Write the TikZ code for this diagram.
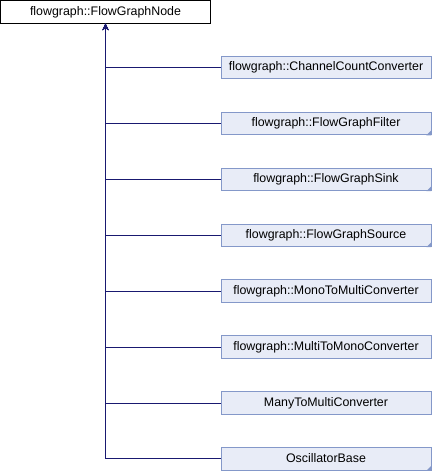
\documentclass[tikz,border=0pt]{standalone}
\usepackage{fontspec}
\setmainfont{Liberation Sans}
\usepackage{xcolor}
\definecolor{edgeblue}{RGB}{25,25,112}
\definecolor{bfill}{RGB}{232,236,247}
\definecolor{bdraw}{RGB}{132,152,201}
\usepackage{tikz}
\usetikzlibrary{arrows.meta,positioning}

\begin{document}
\begin{tikzpicture}[
  x=1pt,y=1pt,
  node distance=32.4pt,
  font=\fontsize{12.4}{14}\selectfont,
  rootbox/.style={rectangle,draw=black,fill=white,line width=0.9pt,minimum width=210pt,minimum height=22.6pt,inner sep=0pt,text height=9pt,text depth=2.5pt},
  cbox/.style={rectangle,draw=bdraw,fill=bfill,line width=0.9pt,minimum width=210pt,minimum height=22.6pt,inner sep=0pt,text height=9pt,text depth=2.5pt},
  edge/.style={-{Stealth[length=6.5pt,width=6pt]},line width=0.9pt,edgeblue},
  fold/.style={fill=bdraw}
]
  \useasboundingbox (0,0) rectangle (432,-472);

  % Base class
  \node[rootbox] (fgnode) at (105.5,-11.8) {flowgraph::FlowGraphNode};

  % Derived classes
  \node[cbox] (ccc) at (326,-67.6) {flowgraph::ChannelCountConverter};
  \node[cbox,below=of ccc] (filter) {flowgraph::FlowGraphFilter};
  \node[cbox,below=of filter] (sink) {flowgraph::FlowGraphSink};
  \node[cbox,below=of sink] (source) {flowgraph::FlowGraphSource};
  \node[cbox,below=of source] (m2m) {flowgraph::MonoToMultiConverter};
  \node[cbox,below=of m2m] (mu2mo) {flowgraph::MultiToMonoConverter};
  \node[cbox,below=of mu2mo] (many) {ManyToMultiConverter};
  \node[cbox,below=of many] (osc) {OscillatorBase};

  % Folded corners
  \fill[fold] (filter.south east) -- ++(0,5) -- ++(-5,-5) -- cycle;
  \fill[fold] (sink.south east) -- ++(0,5) -- ++(-5,-5) -- cycle;
  \fill[fold] (source.south east) -- ++(0,5) -- ++(-5,-5) -- cycle;
  \fill[fold] (osc.south east) -- ++(0,5) -- ++(-5,-5) -- cycle;

  % Inheritance edges
  \draw[edge] (osc.west) -| (fgnode.south);
  \draw[edge] (many.west) -| (fgnode.south);
  \draw[edge] (mu2mo.west) -| (fgnode.south);
  \draw[edge] (m2m.west) -| (fgnode.south);
  \draw[edge] (source.west) -| (fgnode.south);
  \draw[edge] (sink.west) -| (fgnode.south);
  \draw[edge] (filter.west) -| (fgnode.south);
  \draw[edge] (ccc.west) -| (fgnode.south);
\end{tikzpicture}
\end{document}
